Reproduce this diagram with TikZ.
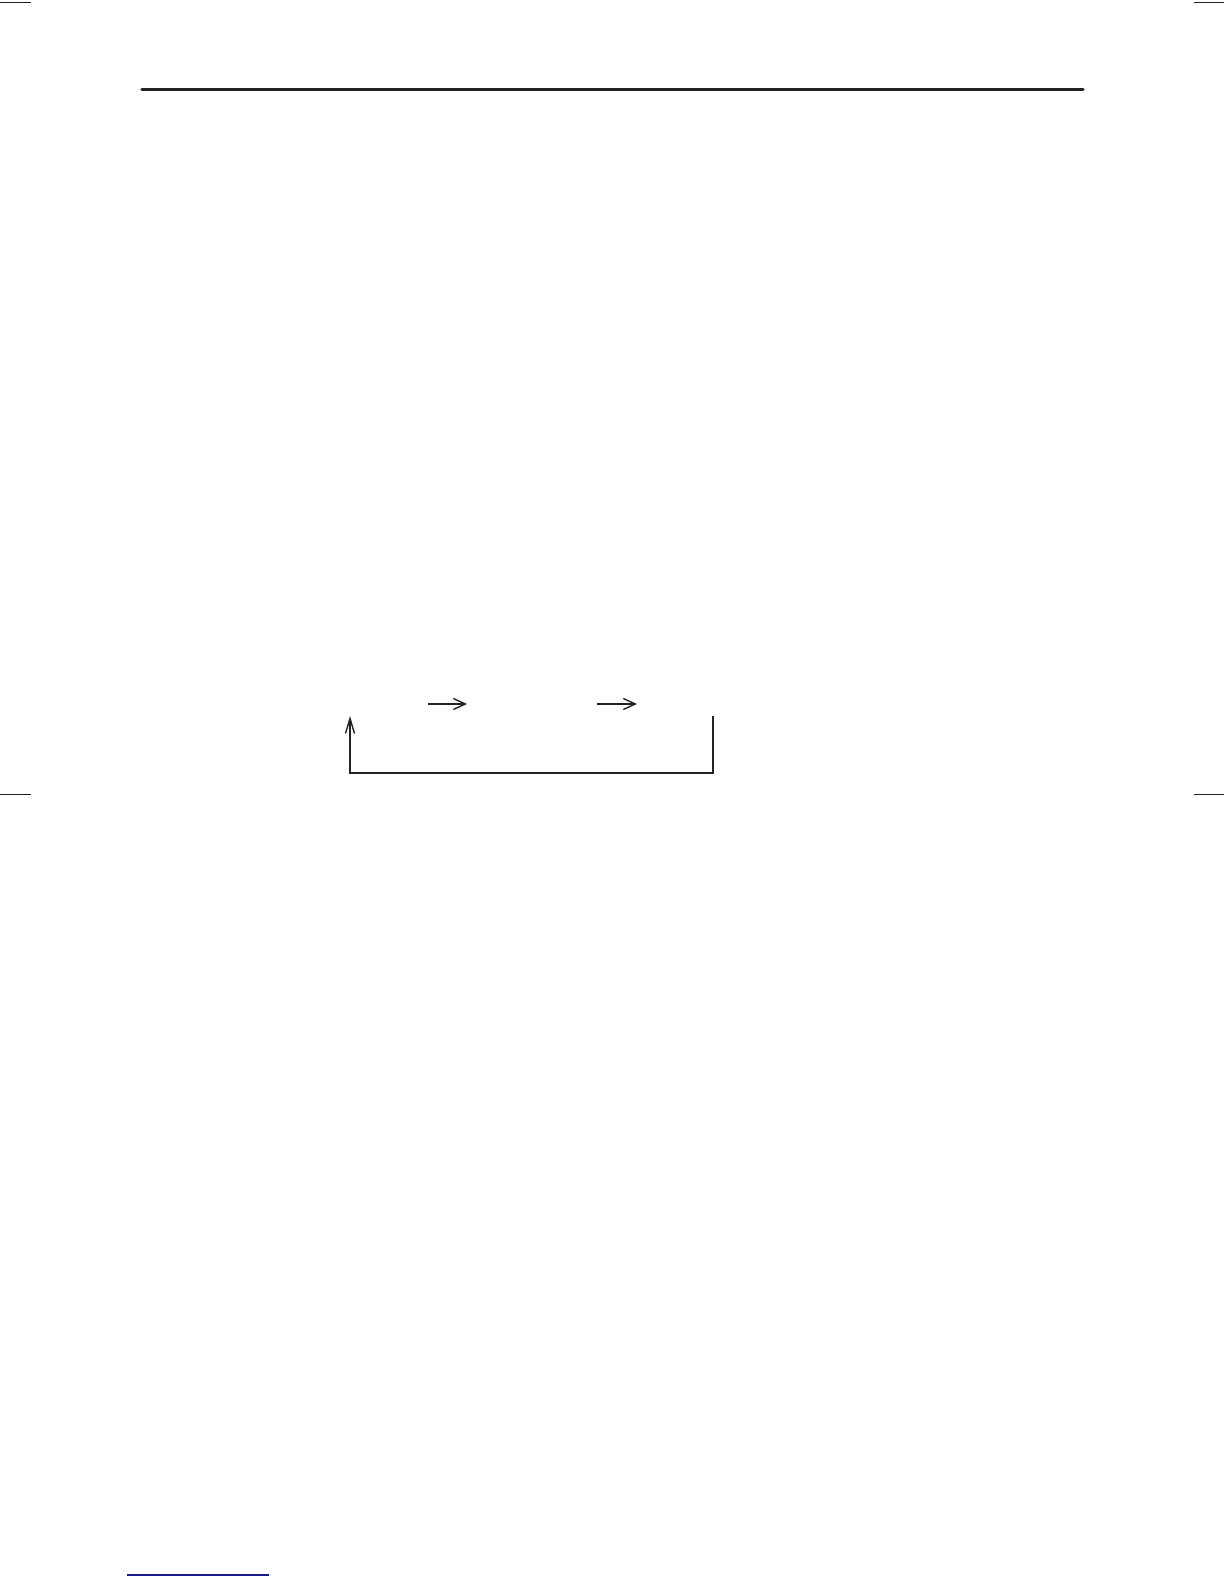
\documentclass[tikz,border=0pt]{standalone}
\usepackage{tikz}
\usepackage{xcolor}
\usetikzlibrary{arrows.meta, positioning, calc}
\definecolor{Ink}{HTML}{222222}
\definecolor{LinkBlue}{HTML}{1A1A8C}

\begin{document}
\begin{tikzpicture}[x=1pt, y=1pt,
    cropmark/.style={draw=Ink, line width=0.5pt},
    flowline/.style={draw=Ink, line width=0.7pt},
    flowarrow/.style={flowline, -{Straight Barb[length=6pt, width=5.5pt]}},
    looparrow/.style={flowline, -{Straight Barb[length=7.5pt, width=4.5pt]}}]
    \useasboundingbox[fill=white] (0,0) rectangle (612,792);

    % Crop marks
    \draw[cropmark] (0,790.5) -- (15.5,790.5);
    \draw[cropmark] (597,790.5) -- (612,790.5);
    \draw[cropmark] (0,394.5) -- (15.5,394.5);
    \draw[cropmark] (597,394.5) -- (612,394.5);

    % Header rule
    \draw[draw=Ink, line width=1.7pt, line cap=round] (71,747.2) -- (541.5,747.2);

    % Flow arrows
    \coordinate (first-out)  at (214,440);
    \coordinate (second-in)  at (233.5,440);
    \coordinate (second-out) at (298.5,440);
    \coordinate (third-in)   at (318.5,440);
    \draw[flowarrow] (first-out) -- (second-in);
    \draw[flowarrow] (second-out) -- (third-in);

    % Feedback loop
    \coordinate (loop-start) at (356.5,434);
    \coordinate (loop-end)   at (175,434);
    \draw[looparrow] (loop-start) -- ++(0,-28.5) -| (loop-end);

    % Footnote rule
    \draw[draw=LinkBlue, line width=0.6pt] (63.5,4.5) -- (134.5,4.5);
\end{tikzpicture}
\end{document}
